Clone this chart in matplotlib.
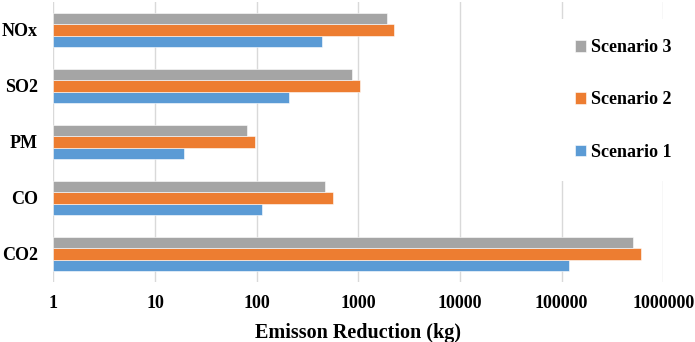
import numpy as np
import matplotlib
matplotlib.use("Agg")
import matplotlib.pyplot as plt

plt.rcParams.update({"font.family": "Liberation Serif", "font.weight": "bold"})

categories = ["CO2", "CO", "PM", "SO2", "NOx"]
scenario_1 = [118600, 111, 18.1, 205, 439]
scenario_2 = [601000, 562, 94.8, 1045, 2254]
scenario_3 = [505000, 473, 79.8, 871, 1898]
series_names = ["Scenario 1", "Scenario 2", "Scenario 3"]
series_cols = ["#5B9BD5", "#ED7D31", "#A5A5A5"]

fig = plt.figure(figsize=(6.95, 3.42), dpi=100)
ax = fig.add_axes([53.3 / 695, 1 - 282 / 342, 610 / 695, 280 / 342])

y = np.arange(len(categories))
h = 0.2
handles = []
for i, (vals, name, col) in enumerate(zip([scenario_1, scenario_2, scenario_3],
                                          series_names, series_cols)):
    b = ax.barh(y + (i - 1) * h, vals, height=h, left=1, color=col,
                edgecolor="white", linewidth=0.4, label=name, zorder=3)
    handles.append(b)

ax.set_xscale("log")
ax.set_xlim(1, 1e6)
ax.set_ylim(-0.5, 4.5)
ax.set_xticks([1, 10, 100, 1000, 10000, 100000, 1000000])
ax.set_xticklabels(["1", "10", "100", "1000", "10000", "100000", "1000000"])
ax.minorticks_off()
ax.set_yticks(y)
ax.set_yticklabels(categories)
ax.tick_params(axis="x", length=0, pad=9, labelsize=13)
ax.tick_params(axis="y", length=0, pad=11, labelsize=13)
ax.grid(axis="x", color="#D9D9D9", linewidth=1.0, zorder=0)
ax.set_axisbelow(True)
for s in ax.spines.values():
    s.set_visible(False)
ax.set_xlabel("Emisson Reduction (kg)", fontsize=14.5, fontweight="bold", labelpad=8)

leg = fig.legend(handles[::-1], series_names[::-1], loc="center left",
                 bbox_to_anchor=(555 / 695, 1 - 100 / 342), borderaxespad=0,
                 borderpad=1.1, fontsize=13, handlelength=0.6, handleheight=0.6,
                 handletextpad=0.3, labelspacing=1.95, frameon=True,
                 fancybox=False, framealpha=1)
leg.get_frame().set_facecolor("white")
leg.get_frame().set_edgecolor("none")

fig.savefig("out.png", dpi=100)
